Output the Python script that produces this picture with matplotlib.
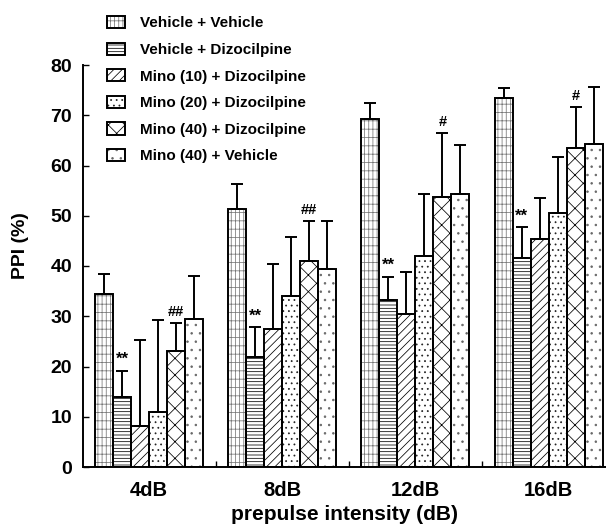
import matplotlib
matplotlib.use("Agg")
import matplotlib.pyplot as plt
import numpy as np

plt.rcParams["font.family"] = ["Liberation Sans", "DejaVu Sans"]
plt.rcParams["font.weight"] = "bold"
plt.rcParams["hatch.linewidth"] = 0.55

# ── data ─────────────────────────────────────────────────────────────────────
intensities = ["4dB", "8dB", "12dB", "16dB"]
groups = [
    "Vehicle + Vehicle",
    "Vehicle + Dizocilpine",
    "Mino (10) + Dizocilpine",
    "Mino (20) + Dizocilpine",
    "Mino (40) + Dizocilpine",
    "Mino (40) + Vehicle",
]
veh_veh      = [34.4, 51.3, 69.2, 73.4]
veh_veh_err  = [4.0, 5.0, 3.2, 2.1]
veh_diz      = [13.9, 21.9, 33.2, 41.5]
veh_diz_err  = [5.2, 5.9, 4.6, 6.2]
m10_diz      = [8.2, 27.4, 30.4, 45.3]
m10_diz_err  = [17.0, 13.0, 8.4, 8.2]
m20_diz      = [10.9, 34.0, 42.0, 50.5]
m20_diz_err  = [18.3, 11.7, 12.3, 11.1]
m40_diz      = [23.1, 41.0, 53.7, 63.4]
m40_diz_err  = [5.5, 7.9, 12.7, 8.2]
m40_veh      = [29.4, 39.4, 54.3, 64.2]
m40_veh_err  = [8.6, 9.5, 9.7, 11.5]

means = [veh_veh, veh_diz, m10_diz, m20_diz, m40_diz, m40_veh]
errs  = [veh_veh_err, veh_diz_err, m10_diz_err, m20_diz_err, m40_diz_err, m40_veh_err]
star_marks = ["**", "**", "**", "**"]   # over Vehicle + Dizocilpine
hash_marks = ["##", "##", "#", "#"]     # over Mino (40) + Dizocilpine

# styles: (hatch, hatch colour)
hatches = [("||++", "#777777"), ("-----", "black"), ("////", "black"),
           ("...", "#222222"), ("xx", "black"), ("..", "#666666")]

fig = plt.figure(figsize=(6.06, 5.25), dpi=100)
ax = fig.add_axes([83 / 606, 1 - 467 / 525, 1 - 83 / 606, (467 - 65) / 525])

x = np.arange(len(intensities))
w = 0.135
handles = []
for i, (m, e, (h, hc)) in enumerate(zip(means, errs, hatches)):
    xi = x + (i - 2.5) * w
    b1 = ax.bar(xi, m, width=w, color="white", edgecolor=hc, hatch=h,
                linewidth=0, zorder=2)
    b2 = ax.bar(xi, m, width=w, fill=False, edgecolor="black",
                linewidth=1.4, zorder=3)
    ax.errorbar(xi, m, yerr=[np.zeros(len(m)), e], fmt="none",
                ecolor="black", elinewidth=1.4, capsize=4, capthick=1.4,
                zorder=4)
    handles.append((b1, b2))

# significance marks
for j in range(len(intensities)):
    xs = x[j] + (1 - 2.5) * w
    ax.text(xs, veh_diz[j] + veh_diz_err[j] + 0.8, star_marks[j],
            ha="center", va="bottom", fontsize=12, fontweight="bold")
    xh = x[j] + (4 - 2.5) * w
    ax.text(xh, m40_diz[j] + m40_diz_err[j] + 0.8, hash_marks[j],
            ha="center", va="bottom", fontsize=10.5, fontweight="bold")

ax.set_xlim(-0.495, 3.43)
ax.set_ylim(0, 80)
ax.set_yticks(np.arange(0, 81, 10))
ax.set_xticks(x)
ax.set_xticklabels(intensities, fontsize=14.5, fontweight="bold")
ax.set_xticks([0.5, 1.5, 2.5], minor=True)
ax.tick_params(axis="x", which="major", length=0, pad=10)
ax.tick_params(axis="x", which="minor", direction="in", length=4, width=1)
ax.tick_params(axis="y", direction="in", length=4, width=1, pad=8,
               labelsize=14)
for lab in ax.get_yticklabels():
    lab.set_fontweight("bold")

ax.spines[["top", "right"]].set_visible(False)
ax.spines["left"].set_linewidth(1.4)
ax.spines["bottom"].set_linewidth(1.4)

ax.set_xlabel("prepulse intensity (dB)", fontsize=15, fontweight="bold",
              labelpad=4)
ax.set_ylabel("PPI (%)", fontsize=14, fontweight="bold")
ax.yaxis.set_label_coords(-0.103, 0.55)

fig.legend(handles, groups, loc="upper left",
           bbox_to_anchor=(107 / 606, 1 - 16 / 525),
           frameon=False, borderpad=0, borderaxespad=0,
           labelspacing=0.8, handlelength=1.18, handleheight=0.85,
           handletextpad=1.0,
           prop={"weight": "bold", "size": 11})

fig.savefig("out.png", dpi=100, facecolor="white")
